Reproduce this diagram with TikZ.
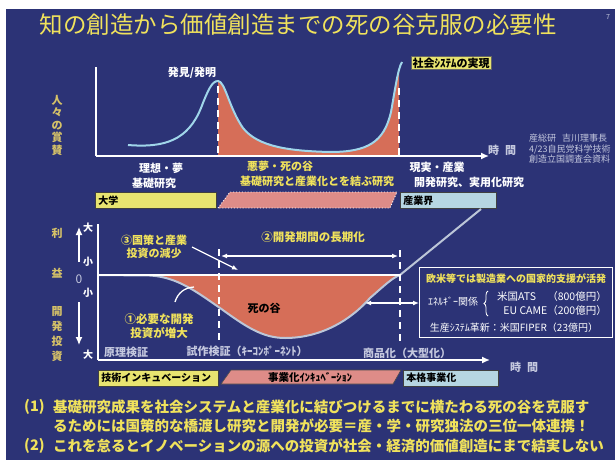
\documentclass[tikz,border=0pt]{standalone}
\usepackage{fontspec}
\setmainfont{Noto Sans CJK JP}
\usepackage{xcolor}
\usetikzlibrary{arrows.meta,positioning,decorations.pathreplacing}
\definecolor{slide}{RGB}{44,51,118}
\definecolor{txtyel}{RGB}{240,226,92}
\definecolor{sideyel}{RGB}{214,194,104}
\definecolor{valley}{RGB}{214,110,88}
\definecolor{barpink}{RGB}{222,140,136}
\definecolor{baryel}{RGB}{232,228,112}
\definecolor{barblue}{RGB}{182,214,226}
\definecolor{praise}{RGB}{160,214,234}
\definecolor{dipline}{RGB}{188,198,216}
\definecolor{srcgrey}{RGB}{196,200,222}

\begin{document}
\begin{tikzpicture}[x=1pt,y=-1pt,
  lbl/.style={inner sep=0pt,text=white,font=\fontsize{11}{13}\selectfont\bfseries,align=center},
  ylbl/.style={lbl,text=txtyel},
  side/.style={inner sep=0pt,align=center,text=sideyel,font=\fontsize{11}{12.5}\selectfont\bfseries},
  tick/.style={inner sep=0pt,text=white,font=\fontsize{10}{12}\selectfont\bfseries},
  note/.style={inner sep=0pt,anchor=west,text=txtyel,font=\fontsize{14.5}{16}\selectfont\bfseries},
  axis/.style={white,line width=1.6pt},
  arr/.style={white,line width=1.5pt,-{Latex[length=8pt,width=7pt]}},
  darr/.style={white,line width=1.4pt,{Latex[length=6pt,width=5pt]}-{Latex[length=6pt,width=5pt]}},
  cut/.style={white,line width=1.8pt,dash pattern=on 7pt off 5pt},
  bar/.style={draw=black!75,line width=0.6pt,inner sep=3pt,anchor=north west,text=black,
    font=\fontsize{10}{12}\selectfont\bfseries,align=left,minimum height=16pt}
]
  \useasboundingbox (0,0) rectangle (615,460);
  \fill[white] (0,0) rectangle (615,460);
  \fill[slide] (6,9) rectangle (615,460);

  \node[inner sep=0pt,text=txtyel,font=\fontsize{23.5}{25}\selectfont] (title) at (298,25) {知の創造から価値創造までの死の谷克服の必要性};
  \node[inner sep=0pt,text=srcgrey,font=\fontsize{7}{8}\selectfont] (page) at (608,17) {7};

  % upper chart
  \coordinate (ytop1) at (96,67);
  \coordinate (o1) at (96,156);
  \coordinate (xend1) at (489,156);
  \begin{scope}
    \clip (218,50) rectangle (399,156);
    \fill[valley] (128,156) -- (128,145) .. controls (165,148) and (188,140) .. (201,108)
      .. controls (208,90) and (212,81) .. (218,81) .. controls (225,81) and (229,108) .. (243,128)
      .. controls (258,147) and (290,151) .. (330,152) .. controls (368,152) and (384,142) .. (391,112)
      .. controls (395,90) and (398,68) .. (402,62) -- (402,156) -- cycle;
  \end{scope}
  \draw[praise,line width=2pt] (128,145) .. controls (165,148) and (188,140) .. (201,108)
    .. controls (208,90) and (212,81) .. (218,81) .. controls (225,81) and (229,108) .. (243,128)
    .. controls (258,147) and (290,151) .. (330,152) .. controls (368,152) and (384,142) .. (391,112)
    .. controls (395,90) and (398,68) .. (402,62);
  \coordinate (c1t) at (218,86);
  \coordinate (c1b) at (218,155);
  \coordinate (c2t) at (399,88);
  \coordinate (c2b) at (399,155);
  \draw[cut] (c1t) -- (c1b);
  \draw[cut] (c2t) -- (c2b);
  \draw[axis] (ytop1) -- (o1);
  \draw[arr] (o1) -- (xend1);

  \node[lbl] (disc) at (192,73) {発見/発明};
  \node[fill=baryel,draw=black!60,inner sep=1.2pt,text=black,font=\fontsize{11}{12}\selectfont\bfseries] (real) at (451,63) {社会ｼｽﾃﾑの実現};
  \node[side] (praiselbl) at (57,125) {人\\々\\の\\賞\\賛};
  \node[lbl,text=srcgrey] (time1) at (502,150) {時\hspace{6pt}間};
  \node[inner sep=0pt,text=srcgrey,align=left,anchor=west,font=\fontsize{9}{10.5}\selectfont] (src) at (529,149)
    {産総研\hspace{6pt}吉川理事長\\4/23自民党科学技術\\創造立国調査会資料};

  \node[lbl] (ideal) at (161,168) {理想・夢};
  \node[lbl] (basic) at (154,183) {基礎研究};
  \node[ylbl] (night) at (280,166) {悪夢・死の谷};
  \node[ylbl] (bridge) at (317,181) {基礎研究と産業化とを結ぶ研究};
  \node[lbl] (reality) at (437,167) {現実・産業};
  \node[lbl] (applied) at (469,182) {開発研究、実用化研究};

  \node[bar,fill=baryel,text width=115pt] (uni) at (95,192) {大学};
  \fill[barpink] (218,208) -- (230,192) -- (397,192) -- (390,208) -- cycle;
  \draw[white,dotted,line width=0.9pt] (218,208) -- (230,192) -- (397,192) -- (390,208) -- cycle;
  \node[bar,fill=barblue,text width=90pt] (ind) at (400,192) {産業界};

  % lower chart
  \node[side] (gain1) at (57,233) {利};
  \node[side] (gain2) at (57,273) {益};
  \node[side,font=\fontsize{11}{15}\selectfont\bfseries] (invest) at (57,334) {開\\発\\投\\資};
  \coordinate (up0) at (79,262);
  \coordinate (up1) at (79,227);
  \coordinate (dn0) at (79,302);
  \coordinate (dn1) at (79,345);
  \draw[arr,line width=1.3pt] (up0) -- (up1);
  \draw[arr,line width=1.3pt] (dn0) -- (dn1);
  \node[tick] (big1) at (88,228) {大};
  \node[tick] (small1) at (88,262) {小};
  \node[tick,text=srcgrey,font=\fontsize{12}{13}\selectfont] (zero) at (79,279) {0};
  \node[tick] (small2) at (88,293) {小};
  \node[tick] (big2) at (88,355) {大};

  \coordinate (ytop2) at (98,224);
  \coordinate (o2) at (98,360);
  \coordinate (xend2) at (490,360);
  \coordinate (z0) at (98,275);
  \coordinate (z1) at (400,275);
  \coordinate (rise) at (481,209);
  \fill[valley] (150,275.5) .. controls (178,277) and (198,293) .. (220,308)
    .. controls (245,326) and (262,338) .. (285,338) .. controls (320,338) and (350,321) .. (370,298)
    .. controls (385,285) and (392,278) .. (z1) -- cycle;
  \draw[dipline,line width=2pt] (z0) -- (150,275.5) .. controls (178,277) and (198,293) .. (220,308)
    .. controls (245,326) and (262,338) .. (285,338) .. controls (320,338) and (350,321) .. (370,298)
    .. controls (385,285) and (392,278) .. (z1) -- (rise);
  \draw[white,line width=1.6pt] (z0) -- (z1);
  \coordinate (c3t) at (219,249);
  \coordinate (c3b) at (219,343);
  \coordinate (c4t) at (400,250);
  \coordinate (c4b) at (400,343);
  \draw[cut] (c3t) -- (c3b);
  \draw[cut] (c4t) -- (c4b);
  \draw[axis] (ytop2) -- (o2);
  \draw[arr] (o2) -- (xend2);
  \node[lbl,text=srcgrey] (time2) at (524,367) {時\hspace{6pt}間};

  \node[inner sep=0pt,text=black,font=\fontsize{11}{13}\selectfont\bfseries] (dv) at (264,308) {死の谷};
  \node[ylbl,font=\fontsize{11}{13}\selectfont\bfseries] (policy) at (154,247) {③国策と産業\\投資の減少};
  \node[ylbl,font=\fontsize{11.5}{13}\selectfont\bfseries] (longer) at (313,237) {②開発期間の長期化};
  \node[ylbl,font=\fontsize{11.5}{14}\selectfont\bfseries] (need) at (159,326) {①必要な開発\\投資が増大};
  \coordinate (p1) at (221,256);
  \coordinate (p2) at (398,256);
  \draw[darr] (p1) -- (p2);
  \coordinate (a3s) at (192,247);
  \coordinate (a3e) at (238,270);
  \draw[arr,line width=1.3pt,-{Latex[length=6pt,width=5pt]}] (a3s) -- (a3e);
  \coordinate (l1s) at (175,302);
  \coordinate (l1e) at (194,287);
  \draw[white,line width=1.3pt] (l1s) to[bend left=35] (l1e);

  \node[draw=white,line width=1.4pt,fill=slide,anchor=north west,minimum width=193pt,minimum height=70pt] (help) at (419,267) {};
  \coordinate (b1) at (365,303);
  \draw[darr] (b1) -- (help.west |- b1);
  \node[inner sep=0pt,text=txtyel,font=\fontsize{10}{12}\selectfont\bfseries] (eu) at (516,279) {欧米等では製造業への国家的支援が活発};
  \node[tick,font=\fontsize{10}{12}\selectfont] (energy) at (453,302) {ｴﾈﾙｷﾞｰ関係};
  \draw[white,line width=0.8pt,decorate,decoration={brace,amplitude=4pt}] (488,316) -- (488,291);
  \node[tick,anchor=west,font=\fontsize{10.5}{12}\selectfont] (ats) at (497,297) {米国ATS};
  \node[tick,anchor=east,font=\fontsize{10.5}{12}\selectfont] (atsval) at (607,297) {（800億円）};
  \node[tick,anchor=east,font=\fontsize{10.5}{12}\selectfont] (came) at (607,311) {EU CAME（200億円）};
  \node[tick,font=\fontsize{10}{12}\selectfont] (fiper) at (514,328) {生産ｼｽﾃﾑ革新：米国FIPER（23億円）};

  \node[lbl,text=srcgrey] (prin) at (126,352) {原理検証};
  \node[lbl,text=srcgrey] (proto) at (247,351) {試作検証（ｷｰｺﾝﾎﾟｰﾈﾝﾄ）};
  \node[lbl,text=srcgrey] (comm) at (407,353) {商品化（大型化）};

  \node[bar,fill=baryel,text width=114pt,minimum height=15pt] (incub) at (98,370) {技術インキュベーション};
  \fill[barpink] (221,384) -- (231,370) -- (401,370) -- (393,384) -- cycle;
  \draw[black!70,line width=0.6pt] (221,384) -- (231,370) -- (401,370) -- (393,384) -- cycle;
  \node[inner sep=0pt,text=black,font=\fontsize{10.5}{12}\selectfont\bfseries] (bizinc) at (310,377) {事業化ｲﾝｷｭﾍﾞｰｼｮﾝ};
  \node[bar,fill=barblue,text width=89pt,minimum height=15pt] (fullbiz) at (403,370) {本格事業化};

  % conclusions
  \node[note] (n1) at (24,407) {(1)};
  \node[note] (n1a) at (53,407) {基礎研究成果を社会システムと産業化に結びつけるまでに横たわる死の谷を克服す};
  \node[note] (n1b) at (53,426) {るためには国策的な橋渡し研究と開発が必要＝産・学・研究独法の三位一体連携！};
  \node[note] (n2) at (24,446) {(2)};
  \node[note] (n2a) at (53,446) {これを怠るとイノベーションの源への投資が社会・経済的価値創造にまで結実しない};
\end{tikzpicture}
\end{document}
